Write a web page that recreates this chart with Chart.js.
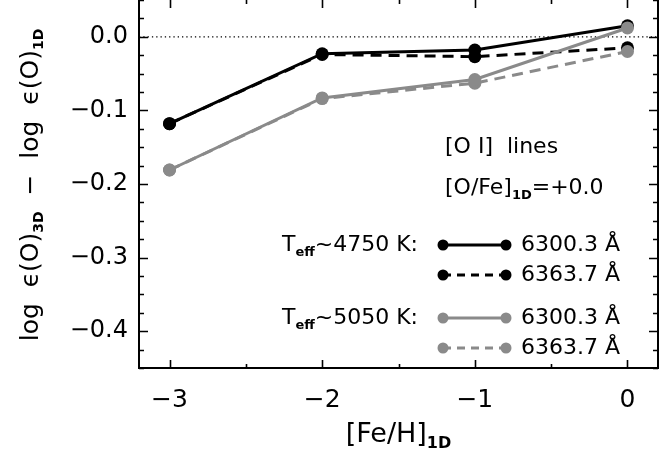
<!DOCTYPE html>
<html>
<head>
<meta charset="utf-8">
<script src="https://cdn.jsdelivr.net/npm/chart.js@4/dist/chart.umd.min.js"></script>
<style>
  body { margin: 0; background: #fff; }
  canvas { display: block; }
</style>
</head>
<body>
<canvas id="chart" width="659" height="457"></canvas>
<script>
// [Fe/H]_1D grid of the models
const feh = [-3, -2, -1, 0];

// 3D - 1D oxygen corrections
const cool6300 = [-0.118, -0.023, -0.018, 0.015];
const cool6363 = [-0.118, -0.024, -0.027, -0.015];
const warm6300 = [-0.181, -0.083, -0.058, 0.012];
const warm6363 = [-0.181, -0.084, -0.063, -0.020];

const xTicks = [-3, -2, -1, 0];
const xTickLabels = ['\u22123', '\u22122', '\u22121', '0'];
const yTicks = [-0.4, -0.3, -0.2, -0.1, 0.0];
const yTickLabels = ['\u22120.4', '\u22120.3', '\u22120.2', '\u22120.1', '0.0'];

const BLACK = '#000000';
const GREY = '#8a8a8a';
const FONT = "'DejaVu Sans', sans-serif";

function pts(vals) {
  return feh.map((x, i) => ({ x: x, y: vals[i] }));
}

function series(label, vals, color, dashed, order) {
  return {
    label: label,
    data: pts(vals),
    borderColor: color,
    backgroundColor: color,
    borderWidth: 3,
    borderDash: dashed ? [11, 7] : [],
    pointRadius: 6.5,
    pointBorderWidth: 0,
    pointHoverRadius: 6.5,
    tension: 0,
    order: order
  };
}

// write a string made of normal and subscript parts
function richWidth(ctx, parts, size) {
  let w = 0;
  parts.forEach(p => {
    ctx.font = p.sub ? 'bold ' + Math.round(size * 0.58) + 'px ' + FONT : size + 'px ' + FONT;
    w += ctx.measureText(p.t).width;
  });
  return w;
}

function drawRich(ctx, x, y, parts, size) {
  ctx.textBaseline = 'middle';
  ctx.textAlign = 'left';
  ctx.fillStyle = '#000';
  parts.forEach(p => {
    if (p.sub) {
      ctx.font = 'bold ' + Math.round(size * 0.58) + 'px ' + FONT;
      ctx.fillText(p.t, x, y + size * 0.33);
    } else {
      ctx.font = size + 'px ' + FONT;
      ctx.fillText(p.t, x, y);
    }
    x += ctx.measureText(p.t).width;
  });
}

const framePlugin = {
  id: 'frame',
  beforeDatasetsDraw(chart) {
    const { ctx, chartArea: a, scales } = chart;
    const y0 = scales.y.getPixelForValue(0);
    ctx.save();
    ctx.strokeStyle = '#000';
    ctx.lineWidth = 1.2;
    ctx.setLineDash([1.3, 3]);
    ctx.beginPath();
    ctx.moveTo(a.left, y0);
    ctx.lineTo(a.right, y0);
    ctx.stroke();
    ctx.restore();
  },
  afterDatasetsDraw(chart) {
    const { ctx, chartArea: a, scales } = chart;
    ctx.save();
    ctx.strokeStyle = '#000';
    ctx.lineWidth = 2;
    ctx.setLineDash([]);
    ctx.beginPath();
    ctx.moveTo(a.left, a.top - 2);
    ctx.lineTo(a.left, a.bottom);
    ctx.lineTo(a.right, a.bottom);
    ctx.lineTo(a.right, a.top - 2);
    ctx.stroke();

    // x tick marks, bottom and top, every 0.5
    ctx.lineWidth = 1.6;
    ctx.beginPath();
    for (let v = -3; v <= 0.001; v += 0.5) {
      const px = Math.round(scales.x.getPixelForValue(v)) + 0.5;
      const len = Math.abs(v - Math.round(v)) < 1e-6 ? 8 : 4;
      ctx.moveTo(px, a.bottom);
      ctx.lineTo(px, a.bottom - len);
      ctx.moveTo(px, a.top);
      ctx.lineTo(px, a.top + len);
    }
    // y tick marks, left and right, every 0.025
    for (let k = -18; k <= 2; k++) {
      const v = k * 0.025;
      const py = Math.round(scales.y.getPixelForValue(v)) + 0.5;
      const len = k % 4 === 0 ? 9 : 5;
      ctx.moveTo(a.left, py);
      ctx.lineTo(a.left + len, py);
      ctx.moveTo(a.right, py);
      ctx.lineTo(a.right - len, py);
    }
    ctx.stroke();
    ctx.restore();
  },
  afterDraw(chart) {
    const { ctx, chartArea: a } = chart;
    ctx.save();

    // axis titles
    const xt = [{ t: '[Fe/H]' }, { t: '1D', sub: true }];
    const xw = richWidth(ctx, xt, 27);
    drawRich(ctx, (a.left + a.right) / 2 - xw / 2, 435, xt, 27);

    const yt = [{ t: 'log  \u03f5(O)' }, { t: '3D', sub: true }, { t: '  \u2212  log  \u03f5(O)' }, { t: '1D', sub: true }];
    const yw = richWidth(ctx, yt, 25);
    ctx.save();
    ctx.translate(31, (a.top + a.bottom) / 2 + 1);
    ctx.rotate(-Math.PI / 2);
    drawRich(ctx, -yw / 2, 0, yt, 25);
    ctx.restore();

    // annotations
    drawRich(ctx, 445, 147, [{ t: '[O I]  lines' }], 22);
    drawRich(ctx, 445, 188, [{ t: '[O/Fe]' }, { t: '1D', sub: true }, { t: '=+0.0' }], 22);

    // legend
    const rows = [
      { y: 245, color: BLACK, dash: [], text: '6300.3 \u00c5', teff: '4750' },
      { y: 275, color: BLACK, dash: [8, 6], text: '6363.7 \u00c5' },
      { y: 318, color: GREY, dash: [], text: '6300.3 \u00c5', teff: '5050' },
      { y: 348, color: GREY, dash: [8, 6], text: '6363.7 \u00c5' }
    ];
    rows.forEach(r => {
      ctx.strokeStyle = r.color;
      ctx.fillStyle = r.color;
      ctx.lineWidth = 3;
      ctx.setLineDash(r.dash);
      ctx.beginPath();
      ctx.moveTo(443, r.y);
      ctx.lineTo(506, r.y);
      ctx.stroke();
      ctx.setLineDash([]);
      [443, 506].forEach(px => {
        ctx.beginPath();
        ctx.arc(px, r.y, 5.5, 0, Math.PI * 2);
        ctx.fill();
      });
      drawRich(ctx, 521, r.y, [{ t: r.text }], 22);
      if (r.teff) {
        const parts = [{ t: 'T' }, { t: 'eff', sub: true }, { t: '~' + r.teff + ' K:' }];
        const w = richWidth(ctx, parts, 22);
        drawRich(ctx, 418 - w, r.y, parts, 22);
      }
    });
    ctx.restore();
  }
};

new Chart(document.getElementById('chart').getContext('2d'), {
  type: 'line',
  data: {
    datasets: [
      series('4750 K 6300.3', cool6300, BLACK, false, 2),
      series('4750 K 6363.7', cool6363, BLACK, true, 3),
      series('5050 K 6300.3', warm6300, GREY, false, 0),
      series('5050 K 6363.7', warm6363, GREY, true, 1)
    ]
  },
  options: {
    responsive: false,
    animation: false,
    devicePixelRatio: 1,
    layout: { autoPadding: false, padding: { top: 0, right: 1, bottom: 0, left: 0 } },
    plugins: {
      legend: { display: false },
      tooltip: { enabled: false }
    },
    scales: {
      x: {
        type: 'linear',
        min: -3.2,
        max: 0.2,
        afterBuildTicks: s => { s.ticks = xTicks.map(v => ({ value: v })); },
        afterFit: s => { s.height = 89; s.paddingLeft = 0; s.paddingRight = 0; },
        grid: { display: false, drawTicks: false },
        border: { display: false },
        ticks: {
          autoSkip: false,
          maxRotation: 0,
          padding: 17,
          color: '#000',
          font: { family: FONT, size: 25 },
          callback: (v, i) => xTickLabels[i]
        }
      },
      y: {
        type: 'linear',
        min: -0.45,
        max: 0.05,
        afterBuildTicks: s => { s.ticks = yTicks.map(v => ({ value: v })); },
        afterFit: s => { s.width = 139; s.paddingTop = 0; s.paddingBottom = 0; },
        grid: { display: false, drawTicks: false },
        border: { display: false },
        ticks: {
          autoSkip: false,
          padding: 11,
          color: '#000',
          font: { family: FONT, size: 24 },
          callback: (v, i) => yTickLabels[i]
        }
      }
    }
  },
  plugins: [framePlugin]
});
</script>
</body>
</html>
